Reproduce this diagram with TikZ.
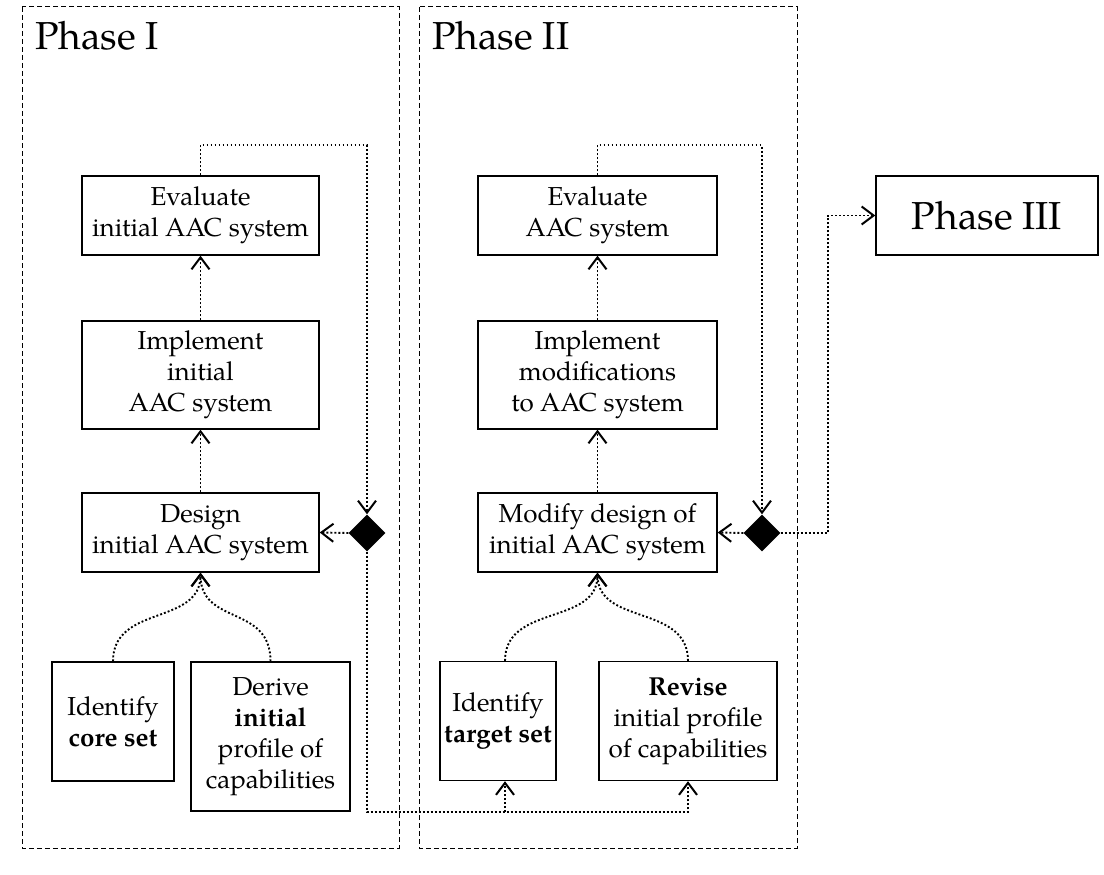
\documentclass[tikz,border=0pt]{standalone}
\usepackage{fontspec}
\setmainfont{TeX Gyre Pagella}
\usetikzlibrary{arrows.meta,shapes.geometric,calc}
\begin{document}
\begin{tikzpicture}[x=1pt,y=-1pt,
 box/.style={draw,line width=1.4pt,inner sep=0pt,align=center,font=\fontsize{26}{31}\selectfont},
 conn/.style={line width=1.9pt,dash pattern=on 1.9pt off 2.1pt},
 arr/.style={conn,-{Straight Barb[length=12pt,width=18pt,line width=2pt]}},
 phasebox/.style={draw,line width=1pt,dash pattern=on 5pt off 3pt},
 title/.style={font=\fontsize{39}{45}\selectfont,anchor=base west,inner sep=0pt},
 dia/.style={diamond,fill=black,minimum size=37pt,inner sep=0pt}]
\useasboundingbox (0,0) rectangle (1104,875);
% phase frames
\draw[phasebox] (22,7) rectangle (399,848);
\draw[phasebox] (419,7) rectangle (797,848);
\node[title] (t1) at (35,50) {Phase I};
\node[title] (t2) at (432,50) {Phase II};
% Phase I boxes
\node[box,minimum width=237pt,minimum height=79pt] (eval1) at (200.5,215.5) {Evaluate\\initial AAC system};
\node[box,minimum width=237pt,minimum height=108pt] (impl1) at (200.5,375) {Implement\\initial\\AAC system};
\node[box,minimum width=237pt,minimum height=79pt] (design1) at (200.5,532.5) {Design\\initial AAC system};
\node[box,minimum width=122pt,minimum height=119pt] (core) at (113,721.5) {Identify\\\textbf{core set}};
\node[box,minimum width=159pt,minimum height=149pt] (derive) at (270.5,736.5) {Derive\\\textbf{initial}\\profile of\\capabilities};
\node[dia] (d1) at (367,533) {};
% Phase II boxes
\node[box,minimum width=239pt,minimum height=79pt] (eval2) at (597.5,215.5) {Evaluate\\AAC system};
\node[box,minimum width=239pt,minimum height=108pt] (impl2) at (597.5,375) {Implement\\modifications\\to AAC system};
\node[box,minimum width=239pt,minimum height=79pt] (modify) at (597.5,532.5) {Modify design of\\initial AAC system};
\node[box,minimum width=116pt,minimum height=119pt] (target) at (498,721) {Identify\\\textbf{target set}};
\node[box,minimum width=178pt,minimum height=119pt] (revise) at (688,721) {\textbf{Revise}\\initial profile\\of capabilities};
\node[dia] (d2) at (762,533) {};
% Phase III
\node[box,minimum width=222pt,minimum height=79pt,font=\fontsize{39}{45}\selectfont] (phase3) at (987,215.5) {Phase III};
% helper coordinates
\coordinate (low) at (0,812);
\coordinate (p3x) at (828,0);
\coordinate (tgts) at ([xshift=7pt]target.south);
\coordinate (tgtn) at ([xshift=7pt]target.north);
% Phase I connectors
\draw[arr] (design1.north) -- (impl1.south);
\draw[arr] (impl1.north) -- (eval1.south);
\draw[arr] (eval1.north) -- ++(0,-30) -| (d1.north);
\draw[arr] (d1.west) -- (design1.east);
\draw[arr] (core.north) .. controls +(0,-57) and +(0,53) .. (design1.south);
\draw[arr] (derive.north) .. controls +(0,-57) and +(0,53) .. (design1.south);
\draw[arr] (d1.south) |- (revise.south |- low) -- (revise.south);
\draw[arr] (tgts |- low) -- (tgts);
% Phase II connectors
\draw[arr] (modify.north) -- (impl2.south);
\draw[arr] (impl2.north) -- (eval2.south);
\draw[arr] (eval2.north) -- ++(0,-30) -| (d2.north);
\draw[arr] (d2.west) -- (modify.east);
\draw[arr] (tgtn) .. controls +(0,-57) and +(0,53) .. (modify.south);
\draw[arr] (revise.north) .. controls +(0,-57) and +(0,53) .. (modify.south);
\draw[arr] (d2.east) -- (d2.east -| p3x) |- (phase3.west);
\end{tikzpicture}
\end{document}
